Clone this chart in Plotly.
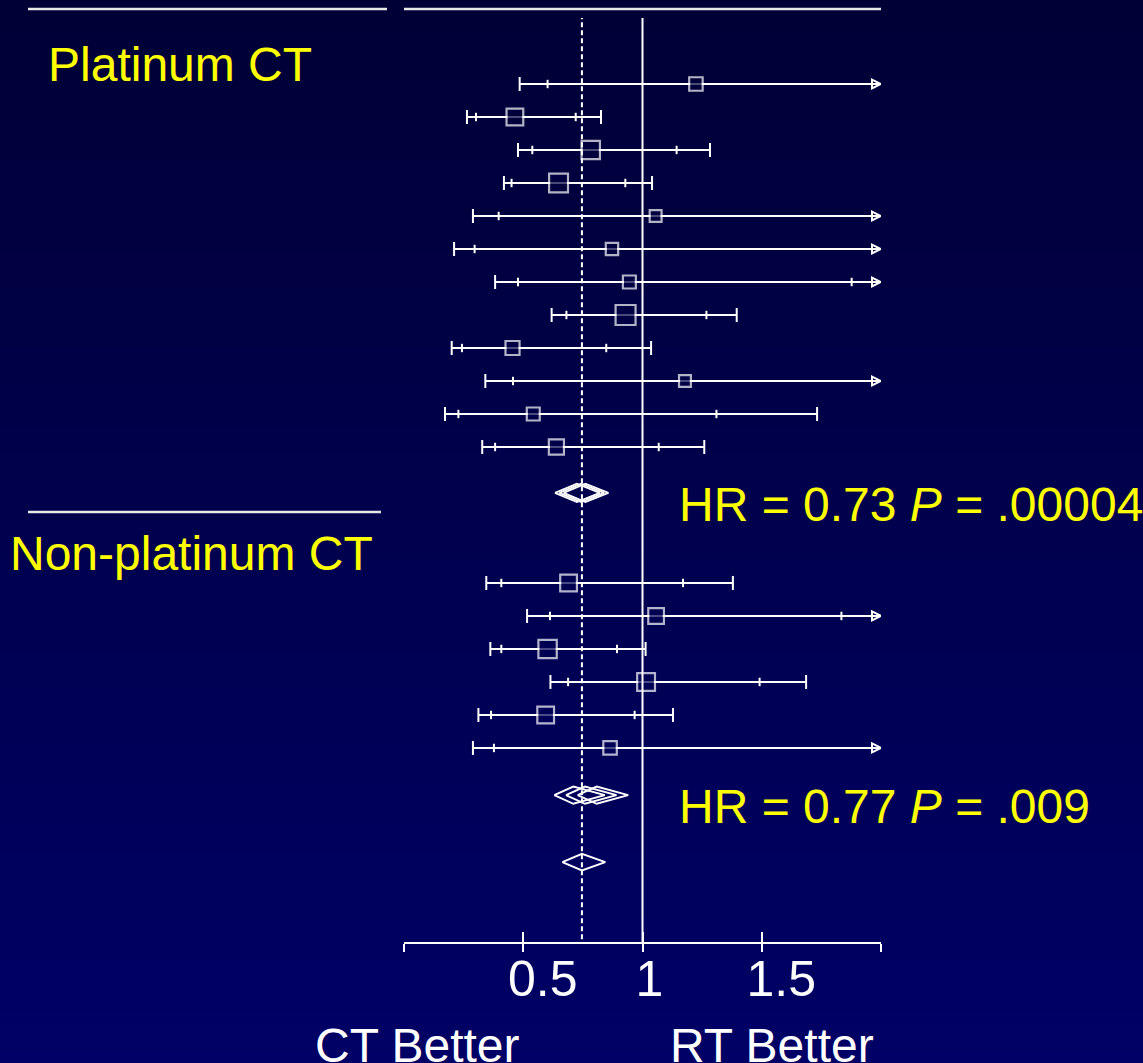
import numpy as np
import plotly.graph_objects as go

# ---------------- data ----------------
# Platinum-based chemotherapy trials (hazard ratios with 95% and 99% CIs)
plat_hr   = [1.224, 0.465, 0.783, 0.648, 1.055, 0.872, 0.945, 0.929, 0.455, 1.178, 0.542, 0.639]
plat_lo99 = [0.485, 0.264, 0.478, 0.419, 0.289, 0.210, 0.382, 0.619, 0.200, 0.341, 0.172, 0.328]
plat_lo95 = [0.602, 0.302, 0.538, 0.451, 0.397, 0.296, 0.478, 0.681, 0.243, 0.457, 0.228, 0.382]
plat_hi95 = [2.49, 0.720, 1.143, 0.928, 2.80, 2.57, 1.877, 1.268, 0.848, 3.04, 1.310, 1.068]
plat_hi99 = [3.09, 0.826, 1.283, 1.040, 3.85, 3.62, 2.34, 1.395, 1.036, 4.07, 1.732, 1.259]
plat_weight = [1.56, 2.40, 2.89, 3.06, 1.21, 1.32, 1.44, 3.42, 1.69, 1.21, 1.44, 1.96]

# Non-platinum chemotherapy trials
np_hr   = [0.690, 1.057, 0.602, 1.015, 0.594, 0.864]
np_lo99 = [0.345, 0.516, 0.362, 0.614, 0.312, 0.289]
np_lo95 = [0.408, 0.612, 0.408, 0.688, 0.365, 0.377]
np_hi95 = [1.170, 1.834, 0.893, 1.491, 0.967, 2.05]
np_hi99 = [1.379, 2.17, 1.013, 1.686, 1.128, 2.58]
np_weight = [2.40, 2.10, 2.89, 2.72, 2.40, 1.56]

# Summary diamonds (striped diamonds drawn as overlapping outlines)
plat_sum_lo  = [0.633, 0.651, 0.669]
plat_sum_mid = [0.725, 0.743, 0.761]
plat_sum_hi  = [0.821, 0.839, 0.857]
np_sum_lo  = [0.630, 0.679, 0.728]
np_sum_mid = [0.710, 0.759, 0.808]
np_sum_hi  = [0.842, 0.891, 0.940]
overall_lo, overall_hr, overall_hi = 0.664, 0.746, 0.844

tick_vals = [0, 0.5, 1, 1.5, 2]
tick_text = ["", "\u20020.5", "1", "\u20021.5", ""]

labels_group = ["Platinum CT", "Non-platinum CT"]
labels_hr = ["HR = 0.73 <i>P</i> = .00004", "HR = 0.77 <i>P</i> = .009"]
labels_side = ["CT Better", "RT Better"]

# ---------------- layout helpers ----------------
W, H = 1143, 1063
ML, MR, MT, MB = 404, 262, 18, 121
PW, PH = W - ML - MR, H - MT - MB
XMAX = 2.0
Y_TOP, Y_BOT = -2.0, 26.0
ROW_PX = PH / (Y_BOT - Y_TOP)
FONT = "Liberation Sans, Arial, sans-serif"
YELLOW = "#ffff00"


def px_x(p):
    return (p - ML) / PW


def px_y(p):
    return 1 - (p - MT) / PH


def bg_rgb(ypix):
    t = min(max(ypix / H, 0), 1)
    return (0, 0, int(round(54 + 48 * t)))


def row_pix(r):
    return MT + (r - Y_TOP) * ROW_PX


plat_rows = list(np.arange(len(plat_hr), dtype=float))
np_rows = list(15.12 + np.arange(len(np_hr)))
plat_sum_row = 12.39
np_sum_row = 21.55
overall_row = 23.58

rows = plat_rows + np_rows
hr = plat_hr + np_hr
lo99 = plat_lo99 + np_lo99
lo95 = plat_lo95 + np_lo95
hi95 = plat_hi95 + np_hi95
hi99 = plat_hi99 + np_hi99
weight = plat_weight + np_weight

fig = go.Figure()

# CI lines
lx, ly = [], []
for r, a, b in zip(rows, lo99, hi99):
    lx += [a, min(b, XMAX), None]
    ly += [r, r, None]
fig.add_trace(go.Scatter(x=lx, y=ly, mode="lines", line=dict(color="white", width=2),
                         hoverinfo="skip", showlegend=False))

# outer caps (99% CI)
cx, cy = [], []
for r, a, b in zip(rows, lo99, hi99):
    cx.append(a); cy.append(r)
    if b <= XMAX:
        cx.append(b); cy.append(r)
fig.add_trace(go.Scatter(x=cx, y=cy, mode="markers",
                         marker=dict(symbol="line-ns", size=10, line=dict(color="white", width=2)),
                         hoverinfo="skip", showlegend=False))

# inner ticks (95% CI)
tx, ty = [], []
for r, a, b in zip(rows, lo95, hi95):
    tx.append(a); ty.append(r)
    if b < XMAX:
        tx.append(b); ty.append(r)
fig.add_trace(go.Scatter(x=tx, y=ty, mode="markers",
                         marker=dict(symbol="line-ns", size=6, line=dict(color="white", width=2)),
                         hoverinfo="skip", showlegend=False))

# arrows for CIs beyond the axis
ax_, ay_ = [], []
for r, b in zip(rows, hi99):
    if b > XMAX:
        ax_.append(XMAX); ay_.append(r)
fig.add_trace(go.Scatter(x=ax_, y=ay_, mode="markers",
                         marker=dict(symbol="arrow-right-open", size=9, color="white",
                                     line=dict(color="white", width=2)),
                         hoverinfo="skip", showlegend=False))

# boxes (size ~ weight)
box_cols = ["rgb(%d,%d,%d)" % bg_rgb(row_pix(r)) for r in rows]
fig.add_trace(go.Scatter(x=hr, y=rows, mode="markers",
                         marker=dict(symbol="square", size=[10.8 * np.sqrt(w) for w in weight],
                                     color=box_cols, line=dict(color="white", width=2.2)),
                         hoverinfo="skip", showlegend=False))


def diamond(lo, mid, hi, row, half, width=1.8):
    fig.add_trace(go.Scatter(x=[lo, mid, hi, mid, lo], y=[row, row - half, row, row + half, row],
                             mode="lines", line=dict(color="white", width=width),
                             hoverinfo="skip", showlegend=False))


for a, m, b in zip(plat_sum_lo, plat_sum_mid, plat_sum_hi):
    diamond(a, m, b, plat_sum_row, 0.28)
for a, m, b in zip(np_sum_lo, np_sum_mid, np_sum_hi):
    diamond(a, m, b, np_sum_row, 0.26)
diamond(overall_lo, overall_hr, overall_hi, overall_row, 0.25, width=2)

# invisible trace for the secondary (inside ticks) axis
fig.add_trace(go.Scatter(x=[0], y=[0], xaxis="x2", mode="markers", marker=dict(opacity=0),
                         hoverinfo="skip", showlegend=False))

shapes = []
# gradient background
NB = 80
x0p, x1p = px_x(0), px_x(W)
for i in range(NB):
    y0 = H * i / NB
    y1 = H * (i + 1) / NB + 1
    shapes.append(dict(type="rect", xref="paper", yref="paper", x0=x0p, x1=x1p,
                       y0=px_y(y1), y1=px_y(y0), line=dict(width=0),
                       fillcolor="rgb(%d,%d,%d)" % bg_rgb((y0 + y1) / 2), layer="below"))
# reference lines
shapes.append(dict(type="line", xref="x", yref="paper", x0=1, x1=1, y0=0, y1=1,
                   line=dict(color="white", width=2), layer="above"))
shapes.append(dict(type="line", xref="x", yref="paper", x0=overall_hr, x1=overall_hr, y0=0.003, y1=1,
                   line=dict(color="white", width=2, dash="5px,3px"), layer="above"))
# header / separator rules
rule = dict(color="#e8e8e8", width=2.5)
shapes.append(dict(type="line", xref="paper", yref="paper", x0=px_x(28), x1=px_x(387),
                   y0=px_y(9), y1=px_y(9), line=rule))
shapes.append(dict(type="line", xref="paper", yref="paper", x0=px_x(404), x1=px_x(881),
                   y0=px_y(9), y1=px_y(9), line=rule))
shapes.append(dict(type="line", xref="paper", yref="paper", x0=px_x(28), x1=px_x(381),
                   y0=px_y(512), y1=px_y(512), line=rule))

annotations = []


def txt(text, x, y, xanchor="left", color=YELLOW, size=48):
    annotations.append(dict(text=text, x=px_x(x), y=px_y(y), xref="paper", yref="paper",
                            xanchor=xanchor, yanchor="middle", showarrow=False,
                            font=dict(family=FONT, size=size, color=color)))


txt(labels_group[0], 46, 64)
txt(labels_group[1], 8, 553)
txt(labels_hr[0], 677, 504)
txt(labels_hr[1], 677, 806)
txt(labels_side[0], 417, 1045, xanchor="center", color="white")
txt(labels_side[1], 772, 1045, xanchor="center", color="white")

fig.update_layout(
    width=W, height=H,
    margin=dict(l=ML, r=MR, t=MT, b=MB),
    paper_bgcolor="rgb(0,0,54)",
    plot_bgcolor="rgba(0,0,0,0)",
    showlegend=False,
    shapes=shapes,
    annotations=annotations,
    xaxis=dict(range=[0, XMAX], tickvals=tick_vals, ticktext=tick_text,
               ticks="outside", ticklen=8, tickwidth=2, tickcolor="white",
               showline=True, linewidth=2, linecolor="white",
               showgrid=False, zeroline=False, fixedrange=True,
               tickfont=dict(family=FONT, size=50, color="white"),
               ticklabelshift=7, ticklabelstandoff=-16),
    xaxis2=dict(range=[0, XMAX], tickvals=tick_vals, overlaying="x", anchor="y", side="bottom",
                ticks="inside", ticklen=10, tickwidth=2, tickcolor="white",
                showticklabels=False, showline=False, showgrid=False, zeroline=False),
    yaxis=dict(range=[Y_BOT, Y_TOP], visible=False, fixedrange=True),
)

fig.write_html("out.html", config={"displayModeBar": False},
               post_script="document.body.style.margin='0';document.body.style.padding='0';"
                           "document.body.style.overflow='hidden';")
